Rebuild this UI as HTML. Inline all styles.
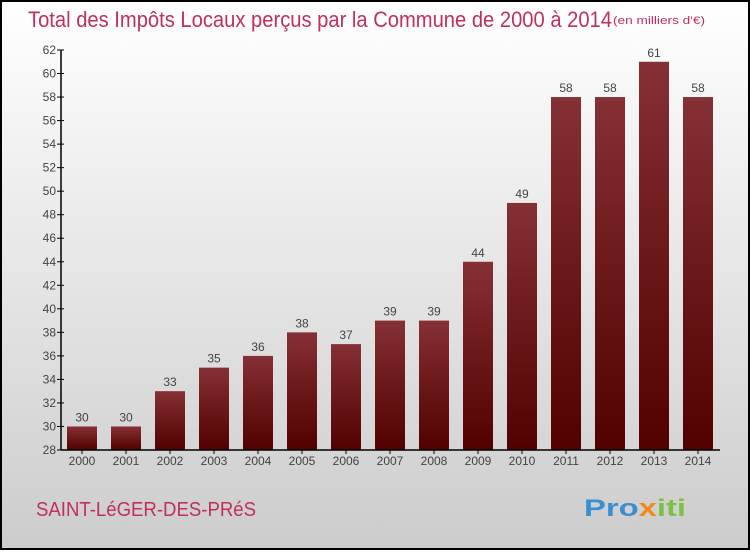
<!DOCTYPE html>
<html><head><meta charset="utf-8"><style>
body{margin:0}
#c{width:750px;height:550px;position:relative;font-family:"Liberation Sans",sans-serif}
</style></head><body>
<div id="c">
<svg id="s" width="750" height="550" xmlns="http://www.w3.org/2000/svg">
<defs>
<linearGradient id="bg" x1="0" y1="0" x2="0" y2="1"><stop offset="0" stop-color="#ffffff"/><stop offset="1" stop-color="#cccccc"/></linearGradient>
<linearGradient id="bar" x1="0" y1="0" x2="0" y2="1"><stop offset="0" stop-color="#853035"/><stop offset="1" stop-color="#520000"/></linearGradient>
</defs>
<rect x="1" y="1" width="748" height="548" fill="url(#bg)" stroke="#000" stroke-width="2"/>
<text x="28" y="27" font-size="22" fill="#c0305a" textLength="584" lengthAdjust="spacingAndGlyphs">Total des Impôts Locaux perçus par la Commune de 2000 à 2014</text>
<text x="613" y="24" font-size="11" fill="#c0305a" textLength="92" lengthAdjust="spacingAndGlyphs">(en milliers d'€)</text>
<text x="36" y="516" font-size="20" fill="#c0305a" textLength="220" lengthAdjust="spacingAndGlyphs">SAINT-LéGER-DES-PRéS</text>
<text x="584" y="516" font-size="24" font-weight="bold" textLength="102" lengthAdjust="spacingAndGlyphs"><tspan fill="#3a8fd0">Pro</tspan><tspan fill="#f08a1a">x</tspan><tspan fill="#7cc242">iti</tspan></text>
<g id="g"></g>
</svg>
</div>
<script>
const years=["2000","2001","2002","2003","2004","2005","2006","2007","2008","2009","2010","2011","2012","2013","2014"];
const values=[30,30,33,35,36,38,37,39,39,44,49,58,58,61,58];
const yTicks=[28,30,32,34,36,38,40,42,44,46,48,50,52,54,56,58,60,62];
const NS="http://www.w3.org/2000/svg";
const g=document.getElementById('g');
const y=v=>450-(v-28)*400/34;
const x=i=>67+i*44;
function mk(t,a){const e=document.createElementNS(NS,t);for(const k in a)e.setAttribute(k,a[k]);g.appendChild(e);return e;}
yTicks.forEach(v=>{
 const l=mk('line',{x1:57,x2:64,y1:y(v),y2:y(v),stroke:'#000'});
 
 
 const t=mk('text',{x:56,y:y(v)+4,'font-size':12,fill:'#444','text-anchor':'end'});t.textContent=v;
 
 
});
values.forEach((v,i)=>{
 const r=mk('rect',{x:x(i),y:y(v),width:30,height:450-y(v),fill:'url(#bar)'});
 
 
 const t=mk('text',{x:x(i)+15,y:y(v)-5,'font-size':12,fill:'#444','text-anchor':'middle'});t.textContent=v;
 
 
 const tl=mk('line',{x1:x(i)+15,x2:x(i)+15,y1:450,y2:454,stroke:'#000'});
 
 
 const xl=mk('text',{x:x(i)+15,y:465,'font-size':12,fill:'#444','text-anchor':'middle'});xl.textContent=years[i];
 
 
});
const ya=mk('line',{x1:61,x2:61,y1:y(62),y2:450,stroke:'#000','stroke-width':1.5});


const xa=mk('line',{x1:61,x2:720,y1:450,y2:450,stroke:'#000','stroke-width':1.5});


</script>
</body></html>
